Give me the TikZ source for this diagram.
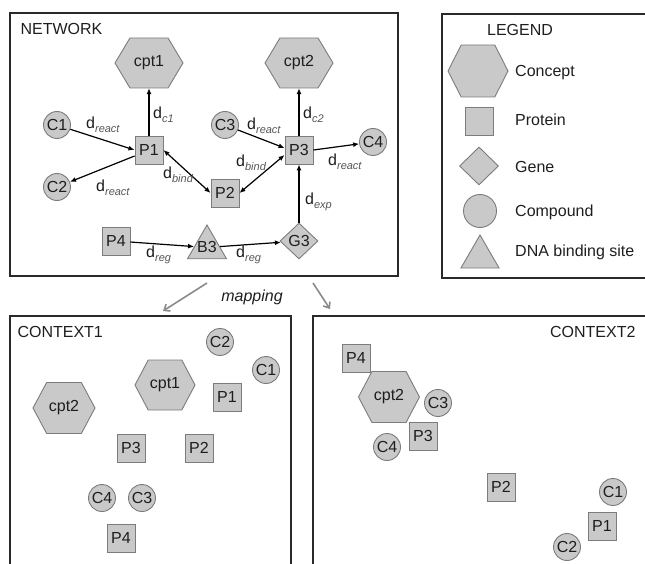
\documentclass[tikz,border=0pt]{standalone}
\usepackage{fontspec}
\setmainfont{Liberation Sans}
\usetikzlibrary{shapes.geometric,arrows.meta,calc}

\definecolor{shapefill}{HTML}{C9C9C9}
\definecolor{shapeline}{HTML}{7C7C7C}
\definecolor{framecol}{HTML}{2A2A2A}
\definecolor{subgray}{HTML}{555555}
\definecolor{mapgray}{HTML}{8A8A8A}
\definecolor{inkcol}{HTML}{1E1E1E}

% distance label: d with an italic subscript
\newcommand\dlab[1]{d\raisebox{-0.45ex}{\fontsize{11}{11}\selectfont\itshape\color{subgray}#1}}

% concept hexagon: name, x, y, width, height, text
\newcommand\hexat[6]{%
  \draw[shapebase] (#2,#3) ++({-#4/2},0) -- ++({0.22*#4},{-#5/2}) -- ++({0.56*#4},0)
    -- ++({0.22*#4},{#5/2}) -- ++({-0.22*#4},{#5/2}) -- ++({-0.56*#4},0) -- cycle;
  \node[rectangle, inner sep=0pt, minimum width=#4pt, minimum height=#5pt] (#1) at (#2,#3) {#6};
}

\tikzset{
  every node/.style={font=\fontsize{16}{18}\selectfont, text=inkcol},
  frame/.style={draw=framecol, line width=1.6pt},
  shapebase/.style={draw=shapeline, fill=shapefill, line width=0.9pt, inner sep=0pt},
  protein/.style={shapebase, rectangle, minimum size=28pt},
  compound/.style={shapebase, circle, minimum size=27pt},
  gene/.style={shapebase, diamond, minimum width=38pt, minimum height=36pt},
  bsite/.style={shapebase, regular polygon, regular polygon sides=3, minimum size=45pt},
  edge/.style={draw=black, line width=1.2pt, -{Latex[length=6pt,width=5pt]}},
  biedge/.style={draw=black, line width=1.2pt, {Latex[length=6pt,width=5pt]}-{Latex[length=6pt,width=5pt]}},
  maparrow/.style={draw=mapgray, line width=1.6pt, -{Straight Barb[length=5pt,width=8pt]}},
  lab/.style={anchor=west, inner sep=0pt},
}

\begin{document}
\begin{tikzpicture}[x=1pt, y=-1pt]
\useasboundingbox (0,0) rectangle (645,564);
\clip (0,0) rectangle (645,564);

% ---------- frames ----------
\draw[frame] (10,13) rectangle (398,276);
\draw[frame] (442,14) rectangle (660,278);
\draw[frame] (10,580) |- (291,316) -- (291,580);
\draw[frame] (313,580) |- (660,316);

\node[anchor=west] (nettitle) at (17,29) {NETWORK};
\node (legtitle) at (520,30) {LEGEND};
\node[anchor=west] (c1title) at (14,332) {CONTEXT1};
\node[anchor=east] (c2title) at (639,332) {CONTEXT2};

% ---------- network ----------
\hexat{cpt1}{149}{63}{68}{50}{cpt1}
\hexat{cpt2}{299}{63}{68}{50}{cpt2}
\node[compound] (C1) at (57,125) {C1};
\node[compound] (C2) at (57,187) {C2};
\node[compound] (C3) at (225,125) {C3};
\node[compound] (C4) at (373,142) {C4};
\node[protein] (P1) at (149,150) {P1};
\node[protein] (P2) at (225,193) {P2};
\node[protein] (P3) at (299,150) {P3};
\node[protein] (P4) at (116,241) {P4};
\node[bsite] (B3) at (207,247.5) {\smash{\makebox[0pt]{\raisebox{-4.5pt}{B3}}}};
\node[gene] (G3) at (299,241) {G3};

\draw[edge] (P1.north) -- (cpt1.south);
\draw[edge] (P3.north) -- (cpt2.south);
\draw[edge] (C1) -- (P1.west);
\draw[edge] ([yshift=-6pt]P1.west) -- (C2);
\draw[biedge] (P1.east) -- (P2.west);
\draw[edge] (C3) -- ([yshift=2pt]P3.west);
\draw[biedge] (P2.east) -- ([yshift=-5pt]P3.west);
\draw[edge] (P3.east) -- (C4);
\draw[edge] (G3.north) -- (P3.south);
\draw[edge] (P4) -- (B3);
\draw[edge] (B3) -- (G3);

\node[lab] (l1) at (153,115) {\dlab{c1}};
\node[lab] (l2) at (303,115) {\dlab{c2}};
\node[lab] (l3) at (86,125) {\dlab{react}};
\node[lab] (l4) at (96,188) {\dlab{react}};
\node[lab] (l5) at (163,175) {\dlab{bind}};
\node[lab] (l6) at (247,126) {\dlab{react}};
\node[lab] (l7) at (236,163) {\dlab{bind}};
\node[lab] (l8) at (328,162) {\dlab{react}};
\node[lab] (l9) at (305,202) {\dlab{exp}};
\node[lab] (l10) at (146,255) {\dlab{reg}};
\node[lab] (l11) at (236,255) {\dlab{reg}};

% ---------- legend ----------
\hexat{lgcpt}{478}{71}{60}{52}{}
\node[protein] (lgprot) at (479,121) {};
\node[gene, minimum width=39pt, minimum height=38pt] (lggene) at (479,166) {};
\node[compound, minimum size=33pt] (lgcomp) at (480,211) {};
\node[bsite, minimum size=44pt] (lgsite) at (480,257) {};
\node[lab] (lgt1) at (515,73) {Concept};
\node[lab] (lgt2) at (515,120) {Protein};
\node[lab] (lgt3) at (515,167) {Gene};
\node[lab] (lgt4) at (515,212) {Compound};
\node[lab] (lgt5) at (515,252) {DNA binding site};

% ---------- mapping ----------
\coordinate (mapL0) at (207,283);
\coordinate (mapL1) at (163,311);
\coordinate (mapR0) at (313,283);
\coordinate (mapR1) at (330,309);
\draw[maparrow] (mapL0) -- (mapL1);
\draw[maparrow] (mapR0) -- (mapR1);
\node[font=\fontsize{16}{18}\selectfont\itshape] (maptext) at (252,297) {mapping};

% ---------- context 1 ----------
\node[compound] (k1C2) at (220,342) {C2};
\node[compound] (k1C1) at (266,370) {C1};
\hexat{k1cpt1}{165}{385}{60}{50}{cpt1}
\node[protein] (k1P1) at (227,397) {P1};
\hexat{k1cpt2}{64}{408}{62}{51}{cpt2}
\node[protein] (k1P3) at (131,448) {P3};
\node[protein] (k1P2) at (199,448) {P2};
\node[compound] (k1C4) at (102,498) {C4};
\node[compound] (k1C3) at (142,498) {C3};
\node[protein] (k1P4) at (121,538) {P4};

% ---------- context 2 ----------
\node[protein] (k2P4) at (356,358) {P4};
\hexat{k2cpt2}{389}{397}{61}{51}{cpt2}
\node[compound] (k2C3) at (438,403) {C3};
\node[protein] (k2P3) at (423,436) {P3};
\node[compound] (k2C4) at (387,447) {C4};
\node[protein] (k2P2) at (501,487) {P2};
\node[compound] (k2C1) at (613,492) {C1};
\node[protein] (k2P1) at (602,526) {P1};
\node[compound] (k2C2) at (567,547) {C2};
\end{tikzpicture}
\end{document}
